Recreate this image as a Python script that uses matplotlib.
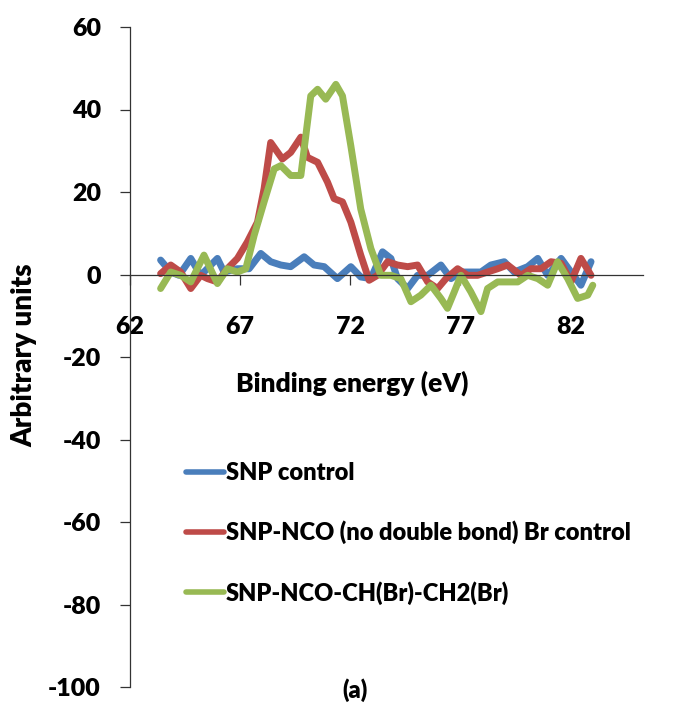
import matplotlib
matplotlib.use("Agg")
import matplotlib.pyplot as plt

plt.rcParams['font.family'] = ['Lato', 'DejaVu Sans']
plt.rcParams['font.weight'] = 'heavy'
plt.rcParams['axes.unicode_minus'] = False

# binding energy (eV) and intensity
snp_x = [63.39, 63.85, 64.23, 64.76, 65.21, 65.97, 66.27, 66.88, 67.41, 67.94, 68.39, 68.85,
         69.30, 69.91, 70.36, 70.82, 71.42, 72.03, 72.48, 72.94, 73.47, 73.85, 74.15, 74.61,
         75.06, 75.52, 76.12, 76.58, 77.03, 77.48, 77.94, 78.39, 79.00, 79.45, 80.06, 80.52,
         80.97, 81.58, 82.03, 82.48, 82.94]
snp_y = [3.5, 0.6, -0.2, 3.9, -0.2, 3.9, 0.6, 1.4, 1.4, 5.1, 3.1, 2.3,
         1.9, 4.3, 2.3, 1.9, -1.0, 1.9, -0.6, -1.0, 5.5, 3.9, -1.0, -3.4,
         -0.2, -0.2, 2.3, -1.0, 0.6, 0.6, 0.6, 2.3, 3.1, 0.6, 1.9, 3.9,
         -0.2, 3.9, 0.6, -2.6, 3.1]

nco_x = [63.39, 63.85, 64.30, 64.76, 65.21, 65.52, 65.97, 66.42, 66.88, 67.33, 67.79, 68.09,
         68.39, 68.92, 69.30, 69.76, 70.06, 70.52, 70.97, 71.27, 71.65, 72.03, 72.48, 72.86,
         73.24, 73.70, 74.15, 74.61, 75.06, 75.52, 75.97, 76.35, 76.88, 77.33, 77.79, 78.24,
         78.70, 79.15, 79.76, 80.21, 80.67, 81.12, 81.58, 82.03, 82.48, 82.94]
nco_y = [0.2, 2.3, 0.6, -3.4, -0.2, -1.0, -1.8, 1.4, 3.9, 7.9, 12.7, 20.8,
         32.0, 28.0, 29.6, 33.3, 28.4, 27.2, 22.4, 18.4, 17.6, 12.7, 4.7, -1.4,
         -0.2, 3.1, 2.3, 1.9, 2.3, -1.8, -3.4, -1.0, 1.4, -0.2, -0.2, 0.6,
         1.4, 2.3, -0.2, 1.4, 1.4, 3.1, 2.7, -1.8, 3.9, -0.2]

br_x = [63.39, 63.85, 64.30, 64.76, 65.36, 65.97, 66.42, 66.88, 67.26, 67.64, 68.09, 68.55,
        68.85, 69.30, 69.76, 70.21, 70.52, 70.89, 71.35, 71.65, 72.03, 72.48, 72.94, 73.39,
        73.85, 74.30, 74.76, 75.21, 75.67, 76.12, 76.42, 76.73, 77.03, 77.48, 77.94, 78.24,
        78.70, 79.15, 79.61, 80.06, 80.52, 80.97, 81.42, 81.88, 82.33, 82.79, 83.02]
br_y = [-3.4, 0.6, -0.2, -1.8, 4.7, -2.2, 1.4, 0.6, 1.4, 9.5, 17.6, 25.6,
        26.4, 24.0, 24.0, 43.3, 44.9, 42.5, 46.1, 43.3, 31.2, 15.9, 6.3, -0.2,
        -0.2, -1.0, -6.6, -5.0, -2.6, -5.8, -8.2, -4.2, -0.2, -4.2, -9.0, -3.4,
        -1.8, -1.8, -1.8, -0.2, -1.0, -2.6, 3.1, -1.0, -5.8, -5.0, -2.6]

labels = ['SNP control', 'SNP-NCO (no double bond) Br control', 'SNP-NCO-CH(Br)-CH2(Br)']
colors = ['#4A7EBB', '#BE4B48', '#98B954']
yticks = [60, 40, 20, 0, -20, -40, -60, -80, -100]
xticks = [62, 67, 72, 77, 82]

fig = plt.figure(figsize=(6.74, 7.09), dpi=100)
ax = fig.add_axes([130/674, 1 - 687/709, (643-130)/674, (687-27)/709])

lines = []
for xs, ys, c, lab in zip([snp_x, nco_x, br_x], [snp_y, nco_y, br_y], colors, labels):
    l, = ax.plot(xs, ys, color=c, lw=5, solid_joinstyle='round', solid_capstyle='round', label=lab)
    lines.append(l)

ax.set_xlim(62, 85.3)
ax.set_ylim(-100, 60)
ax.spines['top'].set_visible(False)
ax.spines['right'].set_visible(False)
ax.spines['bottom'].set_position(('data', 0))
for s in ['left', 'bottom']:
    ax.spines[s].set_linewidth(0.9)
    ax.spines[s].set_color('#333333')

ax.set_yticks(yticks)
ax.set_xticks(xticks)
ax.tick_params(axis='y', direction='out', length=7, width=0.9, pad=14, labelsize=18, colors='#333333', labelcolor='black')
ax.tick_params(axis='x', direction='out', length=7, width=0.9, pad=23, labelsize=18, colors='#333333', labelcolor='black')
for t in ax.get_xticklabels() + ax.get_yticklabels():
    t.set_fontweight('heavy')

fig.text(352/674, 1 - 383/709, 'Binding energy (eV)', ha='center', va='center', fontsize=19, fontweight='heavy')
fig.text(24/674, 1 - 355/709, 'Arbitrary units', ha='center', va='center', rotation=90, fontsize=20, fontweight='heavy')
fig.text(355/674, 1 - 690/709, '(a)', ha='center', va='center', fontsize=17, fontweight='heavy')

leg = ax.legend(handles=lines, loc='upper left', bbox_to_anchor=(186/674, 1 - 462/709),
                bbox_transform=fig.transFigure, frameon=False, fontsize=17,
                handlelength=1.6, handletextpad=0.1, labelspacing=1.55, borderpad=0, borderaxespad=0)
for t in leg.get_texts():
    t.set_fontweight('heavy')
for h in leg.get_lines():
    h.set_linewidth(4)

fig.savefig('out.png', dpi=100)
